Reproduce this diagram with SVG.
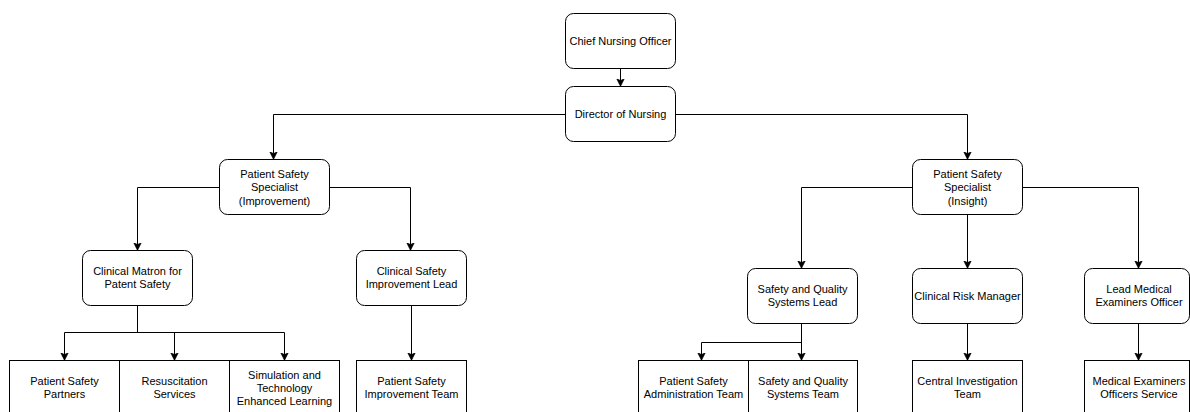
<svg xmlns="http://www.w3.org/2000/svg" width="1190" height="412" viewBox="0 0 1190 412">
  <style>
    .n rect { fill: #ffffff; stroke: #000000; stroke-width: 1; }
    .n text { font-family: "Liberation Sans", Arial, sans-serif; font-size: 11px; fill: #000000; text-anchor: middle; }
    .c path { fill: none; stroke: #000000; stroke-width: 1; marker-end: url(#arr); }
  </style>
  <defs>
    <marker id="arr" markerUnits="userSpaceOnUse" markerWidth="10" markerHeight="10" refX="8" refY="4" orient="auto" viewBox="0 0 10 8">
      <path d="M0,0 L8,4 L0,8 L2,4 Z" fill="#000000" stroke="#000000" stroke-width="0.5"/>
    </marker>
  </defs>
  <rect width="1190" height="412" fill="#ffffff"/>

  <g id="connectors" class="c">
    <path d="M620.5,68.5 V86.5"/>
    <path d="M565.5,114.5 H273.5 V159.5"/>
    <path d="M675.5,114.5 H967.5 V159.5"/>
    <path d="M219.5,187.5 H137.5 V250.5"/>
    <path d="M329.5,187.5 H410.5 V250.5"/>
    <path d="M912.5,187.5 H801.5 V268.5"/>
    <path d="M967.5,214.5 V268.5"/>
    <path d="M1022.5,187.5 H1138.5 V268.5"/>
    <path d="M137.5,305.5 V332.5 H64.5 V360.5"/>
    <path d="M137.5,332.5 H174.5 V360.5"/>
    <path d="M137.5,332.5 H284.5 V360.5"/>
    <path d="M411.5,305.5 V360.5"/>
    <path d="M801.5,323.5 V342.5 H701.5 V360.5"/>
    <path d="M801.5,323.5 V360.5"/>
    <path d="M967.5,323.5 V360.5"/>
    <path d="M1138.5,323.5 V360.5"/>
  </g>

  <g id="chief-nursing-officer" class="n">
    <rect x="565.5" y="13.5" width="110" height="55" rx="8" ry="8"/>
    <text x="620.5" y="45">Chief Nursing Officer</text>
  </g>
  <g id="director-of-nursing" class="n">
    <rect x="565.5" y="86.5" width="110" height="55" rx="8" ry="8"/>
    <text x="620.5" y="118">Director of Nursing</text>
  </g>
  <g id="pss-improvement" class="n">
    <rect x="219.5" y="159.5" width="110" height="55" rx="8" ry="8"/>
    <text x="274.5" y="178">Patient Safety</text>
    <text x="274.5" y="191">Specialist</text>
    <text x="274.5" y="204.5">(Improvement)</text>
  </g>
  <g id="pss-insight" class="n">
    <rect x="912.5" y="159.5" width="110" height="55" rx="8" ry="8"/>
    <text x="967.5" y="178">Patient Safety</text>
    <text x="967.5" y="191">Specialist</text>
    <text x="967.5" y="204.5">(Insight)</text>
  </g>
  <g id="clinical-matron" class="n">
    <rect x="82.5" y="250.5" width="110" height="55" rx="8" ry="8"/>
    <text x="137.5" y="275">Clinical Matron for</text>
    <text x="137.5" y="288">Patent Safety</text>
  </g>
  <g id="clinical-safety-improvement-lead" class="n">
    <rect x="356.5" y="250.5" width="110" height="55" rx="8" ry="8"/>
    <text x="411.5" y="275">Clinical Safety</text>
    <text x="411.5" y="288">Improvement Lead</text>
  </g>
  <g id="safety-quality-systems-lead" class="n">
    <rect x="747.5" y="268.5" width="110" height="55" rx="8" ry="8"/>
    <text x="802.5" y="293">Safety and Quality</text>
    <text x="802.5" y="306">Systems Lead</text>
  </g>
  <g id="clinical-risk-manager" class="n">
    <rect x="912.5" y="268.5" width="110" height="55" rx="8" ry="8"/>
    <text x="967.5" y="300">Clinical Risk Manager</text>
  </g>
  <g id="lead-medical-examiners-officer" class="n">
    <rect x="1084.5" y="268.5" width="105" height="55" rx="8" ry="8"/>
    <text x="1139" y="293">Lead Medical</text>
    <text x="1139" y="306">Examiners Officer</text>
  </g>

  <g id="patient-safety-partners" class="n">
    <rect x="9.5" y="360.5" width="110" height="55"/>
    <text x="64.5" y="385">Patient Safety</text>
    <text x="64.5" y="398">Partners</text>
  </g>
  <g id="resuscitation-services" class="n">
    <rect x="119.5" y="360.5" width="110" height="55"/>
    <text x="174.5" y="385">Resuscitation</text>
    <text x="174.5" y="398">Services</text>
  </g>
  <g id="simulation-tel" class="n">
    <rect x="229.5" y="360.5" width="110" height="55"/>
    <text x="284.5" y="378.5">Simulation and</text>
    <text x="284.5" y="391.5">Technology</text>
    <text x="284.5" y="405">Enhanced Learning</text>
  </g>
  <g id="patient-safety-improvement-team" class="n">
    <rect x="356.5" y="360.5" width="110" height="55"/>
    <text x="411.5" y="385">Patient Safety</text>
    <text x="411.5" y="398">Improvement Team</text>
  </g>
  <g id="patient-safety-administration-team" class="n">
    <rect x="638.5" y="360.5" width="110" height="55"/>
    <text x="693.5" y="385">Patient Safety</text>
    <text x="693.5" y="398">Administration Team</text>
  </g>
  <g id="safety-quality-systems-team" class="n">
    <rect x="748.5" y="360.5" width="109" height="55"/>
    <text x="803" y="385">Safety and Quality</text>
    <text x="803" y="398">Systems Team</text>
  </g>
  <g id="central-investigation-team" class="n">
    <rect x="912.5" y="360.5" width="110" height="55"/>
    <text x="967.5" y="385">Central Investigation</text>
    <text x="967.5" y="398">Team</text>
  </g>
  <g id="medical-examiners-officers-service" class="n">
    <rect x="1084.5" y="360.5" width="105" height="55"/>
    <text x="1139" y="385">Medical Examiners</text>
    <text x="1139" y="398">Officers Service</text>
  </g>
</svg>
